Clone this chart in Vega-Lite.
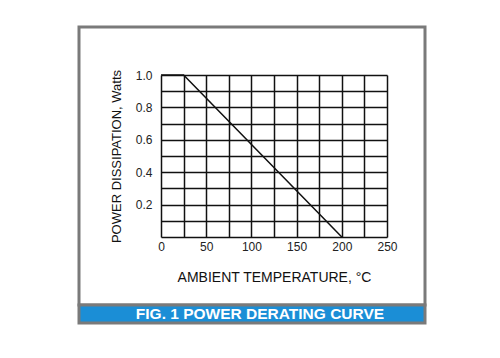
{
  "$schema": "https://vega.github.io/schema/vega-lite/v6.json",
  "padding": {"left": 77, "top": 25, "right": 5, "bottom": 5},
  "spacing": 0,
  "bounds": "flush",
  "config": {"font": "Liberation Sans", "concat": {"spacing": 0}},
  "vconcat": [
    {
      "width": 346,
      "height": 278,
      "view": {"stroke": "#7a7a7a", "strokeWidth": 3, "fill": "white"},
      "data": {"values": [
        {"temp": 0, "power": 1.0},
        {"temp": 25, "power": 1.0},
        {"temp": 200, "power": 0.0}
      ]},
      "resolve": {"axis": {"x": "independent", "y": "independent"}},
      "layer": [
        {
          "mark": {"type": "line", "color": "#111111", "strokeWidth": 1.5, "opacity": 0},
          "encoding": {
            "x": {
              "field": "temp", "type": "quantitative",
              "scale": {"domain": [0, 250], "range": [82, 308], "nice": false, "zero": false},
              "axis": {
                "orient": "top",
                "values": [0, 25, 50, 75, 100, 125, 150, 175, 200, 225, 250],
                "grid": true, "gridColor": "#111111", "gridWidth": 1.5, "gridOpacity": 1,
                "domain": false, "ticks": false, "labels": false, "title": null
              }
            },
            "y": {
              "field": "power", "type": "quantitative",
              "scale": {"domain": [0, 1], "range": [210, 48], "nice": false, "zero": false},
              "axis": {
                "orient": "left",
                "values": [0, 0.1, 0.2, 0.3, 0.4, 0.5, 0.6, 0.7, 0.8, 0.9, 1.0],
                "grid": true, "gridColor": "#111111", "gridWidth": 1.5, "gridOpacity": 1,
                "domain": false, "ticks": false, "labels": false, "title": null
              }
            }
          }
        },
        {
          "mark": {"type": "line", "color": "#111111", "strokeWidth": 1.5},
          "encoding": {
            "x": {
              "field": "temp", "type": "quantitative",
              "axis": {
                "orient": "bottom",
                "values": [0, 50, 100, 150, 200, 250],
                "offset": -68, "grid": false,
                "domain": false, "ticks": false, "labelPadding": 4, "labelFontSize": 12, "labelColor": "#222222",
                "labelFlush": false,
                "title": "AMBIENT TEMPERATURE, °C", "titleFontSize": 14, "titleFontWeight": "normal",
                "titleColor": "#111111", "titlePadding": 18
              }
            },
            "y": {
              "field": "power", "type": "quantitative",
              "axis": {
                "orient": "left",
                "values": [0.2, 0.4, 0.6, 0.8, 1.0],
                "format": ".1f",
                "offset": -82, "grid": false,
                "domain": false, "ticks": false, "labelPadding": 9, "labelFontSize": 12, "labelColor": "#222222",
                "labelFlush": false,
                "title": "POWER DISSIPATION, Watts", "titleFontSize": 13, "titleFontWeight": "normal",
                "titleColor": "#111111", "titlePadding": 12
              }
            }
          }
        }
      ]
    },
    {
      "width": 346,
      "height": 18,
      "view": {"stroke": "#7a7a7a", "strokeWidth": 3, "fill": "#1b8ed6"},
      "data": {"values": [{"caption": "FIG. 1 POWER DERATING CURVE"}]},
      "mark": {"type": "text", "font": "Liberation Sans", "fontWeight": "bold", "fontSize": 15.5, "color": "white", "dx": 8, "baseline": "middle"},
      "encoding": {"text": {"field": "caption"}}
    }
  ]
}
